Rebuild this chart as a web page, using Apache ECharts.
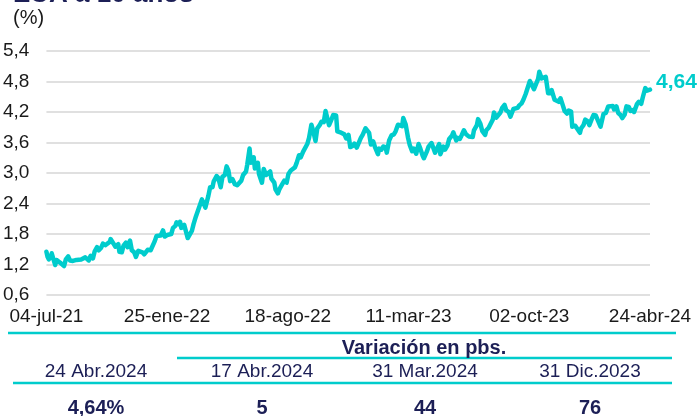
<!DOCTYPE html>
<html><head><meta charset="utf-8">
<script src="https://cdn.jsdelivr.net/npm/echarts@6/dist/echarts.min.js"></script>
<style>html,body{margin:0;padding:0;background:#fff}#c{width:697px;height:416px}</style>
</head><body><div id="c"></div>
<script>
const dates = [
'2021-07-04','2021-07-06','2021-07-08','2021-07-12','2021-07-13','2021-07-16','2021-07-19','2021-07-21','2021-07-23','2021-07-27','2021-07-30',
'2021-08-03','2021-08-06','2021-08-10','2021-08-13','2021-08-18','2021-08-20','2021-08-24','2021-08-27',
'2021-09-01','2021-09-03','2021-09-08','2021-09-10','2021-09-14','2021-09-17','2021-09-21','2021-09-24','2021-09-28',
'2021-10-01','2021-10-05','2021-10-08','2021-10-12','2021-10-15','2021-10-20','2021-10-21','2021-10-26','2021-10-29',
'2021-11-03','2021-11-05','2021-11-09','2021-11-12','2021-11-16','2021-11-19','2021-11-23','2021-11-26','2021-11-30',
'2021-12-03','2021-12-07','2021-12-10','2021-12-14','2021-12-17','2021-12-20','2021-12-23','2021-12-28','2021-12-31',
'2022-01-04','2022-01-07','2022-01-10','2022-01-14','2022-01-18','2022-01-21','2022-01-25','2022-01-28',
'2022-02-01','2022-02-04','2022-02-08','2022-02-10','2022-02-14','2022-02-16','2022-02-18','2022-02-23','2022-02-25',
'2022-03-01','2022-03-04','2022-03-08','2022-03-11','2022-03-15','2022-03-18','2022-03-22','2022-03-25','2022-03-28','2022-03-31',
'2022-04-05','2022-04-08','2022-04-12','2022-04-14','2022-04-19','2022-04-22','2022-04-26','2022-04-29',
'2022-05-03','2022-05-06','2022-05-09','2022-05-12','2022-05-16','2022-05-18','2022-05-20','2022-05-24','2022-05-26','2022-05-31',
'2022-06-03','2022-06-08','2022-06-10','2022-06-14','2022-06-16','2022-06-21','2022-06-23','2022-06-28','2022-06-30',
'2022-07-05','2022-07-08','2022-07-12','2022-07-14','2022-07-19','2022-07-21','2022-07-26','2022-07-28',
'2022-08-01','2022-08-04','2022-08-08','2022-08-10','2022-08-12','2022-08-16','2022-08-19','2022-08-23','2022-08-26','2022-08-30',
'2022-09-02','2022-09-06','2022-09-09','2022-09-13','2022-09-16','2022-09-20','2022-09-23','2022-09-27','2022-09-30',
'2022-10-04','2022-10-07','2022-10-11','2022-10-14','2022-10-18','2022-10-21','2022-10-24','2022-10-27','2022-10-31',
'2022-11-03','2022-11-04','2022-11-08','2022-11-10','2022-11-15','2022-11-18','2022-11-22','2022-11-25','2022-11-29',
'2022-12-02','2022-12-06','2022-12-09','2022-12-13','2022-12-16','2022-12-20','2022-12-23','2022-12-28','2022-12-30',
'2023-01-03','2023-01-06','2023-01-10','2023-01-13','2023-01-18','2023-01-20','2023-01-24','2023-01-27','2023-01-31',
'2023-02-02','2023-02-06','2023-02-10','2023-02-14','2023-02-17','2023-02-21','2023-02-24','2023-02-28',
'2023-03-02','2023-03-06','2023-03-08','2023-03-10','2023-03-13','2023-03-17','2023-03-20','2023-03-24','2023-03-28','2023-03-31',
'2023-04-04','2023-04-06','2023-04-11','2023-04-14','2023-04-19','2023-04-21','2023-04-25','2023-04-28',
'2023-05-02','2023-05-04','2023-05-09','2023-05-12','2023-05-16','2023-05-19','2023-05-24','2023-05-26','2023-05-31',
'2023-06-02','2023-06-06','2023-06-09','2023-06-13','2023-06-16','2023-06-21','2023-06-23','2023-06-28','2023-06-30',
'2023-07-05','2023-07-07','2023-07-11','2023-07-14','2023-07-19','2023-07-21','2023-07-25','2023-07-28',
'2023-08-01','2023-08-03','2023-08-07','2023-08-10','2023-08-14','2023-08-17','2023-08-21','2023-08-24','2023-08-28','2023-08-31',
'2023-09-05','2023-09-08','2023-09-12','2023-09-15','2023-09-19','2023-09-22','2023-09-26','2023-09-29',
'2023-10-03','2023-10-06','2023-10-10','2023-10-13','2023-10-17','2023-10-19','2023-10-23','2023-10-26','2023-10-30',
'2023-11-01','2023-11-03','2023-11-07','2023-11-09','2023-11-14','2023-11-17','2023-11-21','2023-11-24','2023-11-28',
'2023-12-01','2023-12-05','2023-12-08','2023-12-12','2023-12-14','2023-12-19','2023-12-22','2023-12-27','2023-12-29',
'2024-01-02','2024-01-05','2024-01-09','2024-01-12','2024-01-16','2024-01-19','2024-01-23','2024-01-26','2024-01-31',
'2024-02-01','2024-02-05','2024-02-09','2024-02-13','2024-02-16','2024-02-21','2024-02-23','2024-02-27',
'2024-03-01','2024-03-05','2024-03-08','2024-03-12','2024-03-15','2024-03-19','2024-03-22','2024-03-26','2024-03-28',
'2024-04-02','2024-04-05','2024-04-09','2024-04-12','2024-04-16','2024-04-19','2024-04-22','2024-04-24'
];
const yields = [
1.45,1.35,1.30,1.36,1.42,1.30,1.19,1.29,1.28,1.24,1.24,
1.17,1.30,1.36,1.28,1.27,1.26,1.29,1.31,
1.30,1.33,1.34,1.34,1.28,1.37,1.32,1.46,1.54,
1.48,1.53,1.61,1.58,1.59,1.65,1.70,1.61,1.55,
1.60,1.45,1.44,1.57,1.63,1.54,1.67,1.48,1.44,
1.35,1.47,1.48,1.44,1.40,1.42,1.49,1.48,1.51,
1.66,1.76,1.78,1.77,1.87,1.75,1.78,1.77,
1.80,1.92,1.96,2.03,1.99,2.04,1.92,1.98,1.97,
1.72,1.74,1.86,2.00,2.15,2.14,2.38,2.48,2.46,2.32,
2.55,2.72,2.72,2.83,2.94,2.90,2.72,2.93,
2.96,3.13,3.05,2.84,2.88,2.89,2.78,2.76,2.75,2.85,
2.96,3.03,3.16,3.48,3.20,3.31,3.09,3.20,2.98,
2.81,3.08,2.96,2.96,3.03,2.89,2.81,2.68,
2.60,2.69,2.77,2.79,2.85,2.81,2.98,3.05,3.04,3.11,
3.20,3.35,3.31,3.42,3.45,3.57,3.69,3.95,3.83,
3.63,3.88,3.94,4.01,4.00,4.22,4.25,3.94,4.05,
4.14,4.16,4.13,3.82,3.80,3.83,3.76,3.68,3.75,
3.51,3.53,3.58,3.50,3.48,3.69,3.75,3.88,3.88,
3.79,3.56,3.62,3.51,3.37,3.48,3.46,3.52,3.51,
3.40,3.64,3.74,3.76,3.82,3.95,3.95,3.92,
4.08,3.96,3.99,3.70,3.55,3.43,3.48,3.38,3.57,3.48,
3.34,3.29,3.42,3.52,3.59,3.57,3.40,3.43,
3.57,3.37,3.52,3.46,3.54,3.67,3.74,3.80,3.64,
3.69,3.67,3.74,3.84,3.77,3.72,3.74,3.71,3.84,
3.94,4.06,3.97,3.83,3.75,3.84,3.89,3.96,
4.05,4.19,4.09,4.09,4.19,4.28,4.34,4.23,4.20,4.11,
4.26,4.26,4.28,4.33,4.37,4.44,4.56,4.57,
4.81,4.78,4.65,4.63,4.85,4.99,4.86,4.85,4.89,
4.73,4.57,4.57,4.63,4.44,4.44,4.40,4.47,4.33,
4.22,4.17,4.23,4.21,3.91,3.93,3.90,3.79,3.88,
3.94,4.05,4.02,3.94,4.06,4.14,4.13,4.14,3.91,
3.88,4.16,4.18,4.31,4.28,4.32,4.25,4.31,
4.18,4.14,4.08,4.15,4.31,4.30,4.22,4.24,4.20,
4.36,4.40,4.36,4.50,4.67,4.62,4.62,4.64
];
const startDate = '2021-07-04';
const xTickLabels = ['04-jul-21','25-ene-22','18-ago-22','11-mar-23','02-oct-23','24-abr-24'];
const yTickLabels = ['0,6','1,2','1,8','2,4','3,0','3,6','4,2','4,8','5,4'];
const lastLabel = '4,64';
const titleText = 'EUA a 10 años';
const unitText = '(%)';
const tableHeader = 'Variación en pbs.';
const tableCols = ['24 Abr.2024','17 Abr.2024','31 Mar.2024','31 Dic.2023'];
const tableVals = ['4,64%','5','44','76'];

const TEAL = '#00CCCC';
const NAVY = '#1c1f56';
const FONT = "'Liberation Sans', Arial, sans-serif";

function dayOffset(s){
  const p = s.split('-').map(Number), q = startDate.split('-').map(Number);
  return Math.round((Date.UTC(p[0],p[1]-1,p[2]) - Date.UTC(q[0],q[1]-1,q[2]))/86400000);
}
const seriesData = dates.map((d,i)=>[dayOffset(d), yields[i]]);
const STEP = 205;
const XMAX = STEP*(xTickLabels.length-1);

const colX = [96, 262, 425, 590];
const graphics = [
  {type:'text', left:13, top:-18, style:{text:titleText, font:"bold 26px "+FONT, fill:NAVY}},
  {type:'text', left:13, top:8, style:{text:unitText, font:"20px "+FONT, fill:'#1a1a1a'}},
  {type:'line', shape:{x1:8,y1:333,x2:676,y2:333}, style:{stroke:TEAL, lineWidth:2.5}},
  {type:'line', shape:{x1:177,y1:358,x2:672,y2:358}, style:{stroke:TEAL, lineWidth:2.5}},
  {type:'line', shape:{x1:13,y1:383,x2:672,y2:383}, style:{stroke:TEAL, lineWidth:2.5}},
  {type:'text', x:424, y:348, style:{text:tableHeader, font:"bold 20px "+FONT, fill:NAVY, textAlign:'center', textVerticalAlign:'middle'}}
];
tableCols.forEach((t,i)=>graphics.push({type:'text', x:colX[i], y:372, style:{text:t, font:"19px "+FONT, fill:NAVY, textAlign:'center', textVerticalAlign:'middle'}}));
tableVals.forEach((t,i)=>graphics.push({type:'text', x:colX[i], y:408, style:{text:t, font:"bold 20px "+FONT, fill:NAVY, textAlign:'center', textVerticalAlign:'middle'}}));

const chart = echarts.init(document.getElementById('c'), null, {renderer:'canvas'});
chart.setOption({
  animation:false,
  backgroundColor:'#fff',
  grid:{left:44, right:47, top:51, bottom:121, containLabel:false},
  xAxis:{
    type:'value', min:0, max:XMAX, interval:STEP,
    axisLine:{show:false}, axisTick:{show:false}, splitLine:{show:false},
    axisLabel:{margin:12, color:'#1a1a1a', fontSize:19, fontFamily:FONT,
      formatter:v=>xTickLabels[Math.round(v/STEP)] || ''}
  },
  yAxis:{
    type:'value', min:0.6, max:5.4, interval:0.6,
    axisLine:{show:false}, axisTick:{show:false},
    splitLine:{lineStyle:{color:'#d6d6d6', width:1.5}},
    axisLabel:{margin:17, color:'#1a1a1a', fontSize:19, fontFamily:FONT,
      formatter:v=>yTickLabels[Math.round((v-0.6)/0.6)] || ''}
  },
  series:[{
    type:'line', data:seriesData, showSymbol:false, symbol:'none',
    lineStyle:{color:TEAL, width:4.5, join:'round', cap:'round'}, itemStyle:{color:TEAL},
    endLabel:{show:true, formatter:lastLabel, color:TEAL, fontWeight:'bold', fontSize:21, fontFamily:FONT, offset:[-2,-7]}
  }],
  graphic:graphics
});
</script></body></html>
